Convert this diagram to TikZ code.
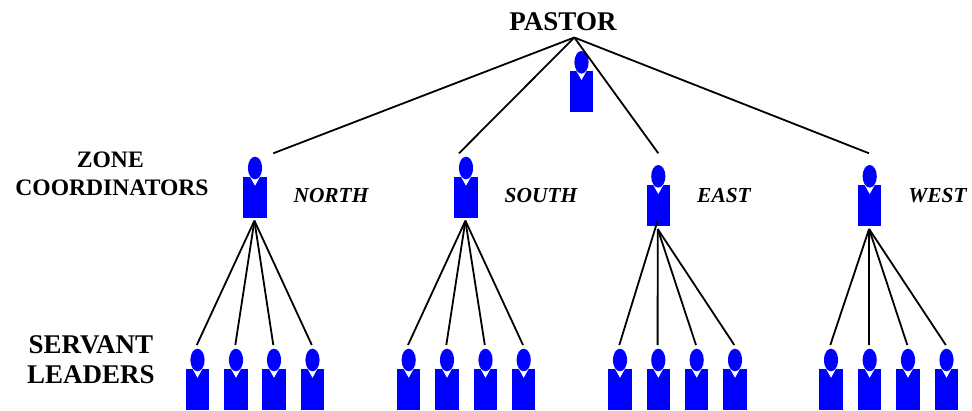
\documentclass[tikz,border=0pt]{standalone}
\usepackage{fontspec}
\setmainfont{Liberation Serif}
\usetikzlibrary{shapes.geometric}
\definecolor{figblue}{RGB}{0,0,255}
\tikzset{
  x=1pt,y=-1pt,
  bodybox/.style={fill=figblue,draw=none,rectangle,minimum width=23.4pt,minimum height=41pt,inner sep=0pt,outer sep=0pt},
  headoval/.style={fill=figblue,draw=none,ellipse,minimum width=14.2pt,minimum height=22.6pt,inner sep=0pt,outer sep=0pt},
  collar/.style={fill=white,draw=none},
  link/.style={draw=black,line width=1.8pt},
  pastorhead/.style={font=\bfseries\fontsize{27}{30}\selectfont,inner sep=0pt},
  zonehead/.style={font=\bfseries\fontsize{23.6}{28}\selectfont,align=center,inner sep=0pt},
  servanthead/.style={font=\bfseries\fontsize{27}{30}\selectfont,align=center,inner sep=0pt},
  zonename/.style={font=\bfseries\itshape\fontsize{21.4}{24}\selectfont,inner sep=0pt},
  person/.pic={
    \node[bodybox,anchor=north] (-body) at (0,20) {};
    \fill[collar] (-5,20) -- (5,20) -- (0,29) -- cycle;
    \node[headoval,anchor=north] (-head) at (0,0) {};
    \coordinate (-in) at (-0.7,-3.7);
    \coordinate (-out) at (-0.6,64);
  }
}
\begin{document}
\begin{tikzpicture}
\useasboundingbox (0,0) rectangle (972,410);
\node[pastorhead,anchor=base] (pastorlabel) at (563,30) {PASTOR};
\node[zonehead,anchor=base] (zonelabel) at (112,195) {ZONE\hspace*{3.4pt}\\COORDINATORS};
\node[servanthead,anchor=base] (servantlabel) at (90.8,383) {SERVANT\\LEADERS};
\node[zonename,anchor=base] (northlabel) at (331,202) {NORTH};
\node[zonename,anchor=base] (southlabel) at (541,202) {SOUTH};
\node[zonename,anchor=base] (eastlabel) at (724,202) {EAST};
\node[zonename,anchor=base] (westlabel) at (937.5,202) {WEST};

\pic (pastor) at (581.5,51) {person};
\coordinate (apex) at (574.3,37.5);
\pic (north) at (255,156.7) {person};
\pic (south) at (466,156.7) {person};
\pic (east) at (658.3,165) {person};
\pic (west) at (869.7,165) {person};
\coordinate (northin) at (273.3,153.3);
\coordinate (southin) at (459,153.3);
\coordinate (eastin) at (658.3,153.3);
\coordinate (westin) at (869,153.3);
\coordinate (eastextra) at (657.3,221.7);
\draw[link] (apex) -- (northin);
\draw[link] (apex) -- (southin);
\draw[link] (apex) -- (eastin);
\draw[link] (apex) -- (westin);

\foreach \n/\x in {a1/197.5,a2/236,a3/274,a4/312.5,b1/408.7,b2/447,b3/485.5,b4/523.7,c1/620,c2/658.3,c3/696.7,c4/735,d1/831,d2/869.7,d3/908,d4/946.5}{
  \pic (\n) at (\x,348.7) {person};
}
\foreach \z/\p in {north/a1,north/a2,north/a3,north/a4,south/b1,south/b2,south/b3,south/b4,east/c2,east/c3,east/c4,west/d1,west/d2,west/d3,west/d4}{
  \draw[link] (\z-out) -- (\p-in);
}
\draw[link] (eastextra) -- (c1-in);
\end{tikzpicture}
\end{document}
